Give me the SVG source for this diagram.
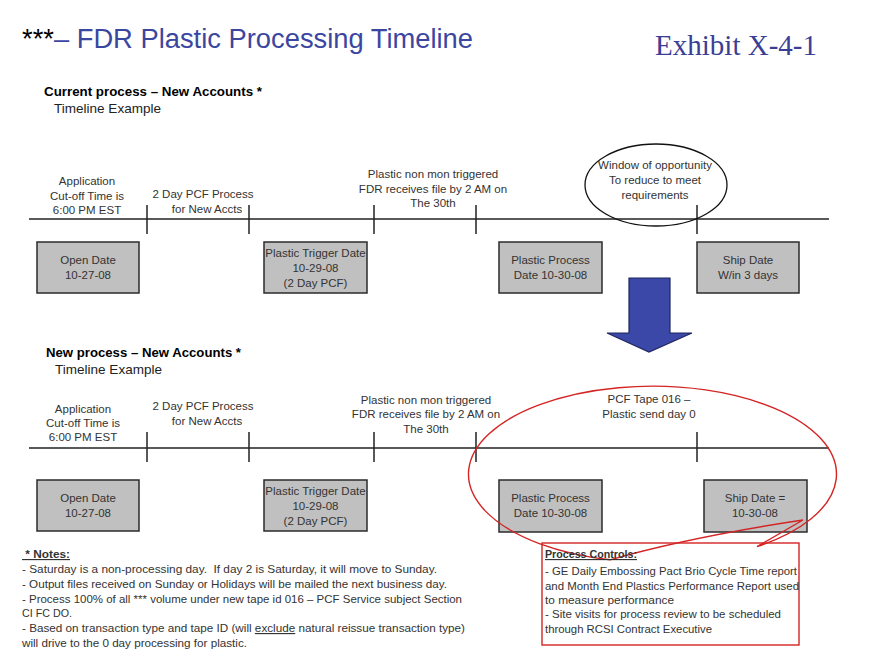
<svg xmlns="http://www.w3.org/2000/svg" width="880" height="660" viewBox="0 0 880 660">
<style>
  text { font-family: "Liberation Sans", Arial, sans-serif; }
  text.serif { font-family: "Liberation Serif", "Times New Roman", serif; }
  .lbl { font-size: 11.5px; fill: #333; text-anchor: middle; }
  .box { fill: #c0c0c0; stroke: #2b2b2b; stroke-width: 1.5; }
  .btxt { font-size: 11.5px; fill: #333; text-anchor: middle; }
  .axis { stroke: #222; stroke-width: 1.5; fill: none; }
  .tick { stroke: #222; stroke-width: 1.5; }
  .head { font-size: 13.5px; font-weight: bold; fill: #000; }
  .sub { font-size: 13.5px; fill: #222; }
  .note { font-size: 11.5px; fill: #333; }
</style>
<rect width="880" height="660" fill="#fff"/>

<g id="title">
  <text x="22" y="48" font-size="27" textLength="451" lengthAdjust="spacingAndGlyphs"><tspan fill="#000">***</tspan><tspan fill="#3b46a0">– FDR Plastic Processing Timeline</tspan></text>
  <text class="serif" x="655" y="55" font-size="30" fill="#3a3f95" textLength="162" lengthAdjust="spacingAndGlyphs">Exhibit X-4-1</text>
</g>

<g id="heading-current">
  <text class="head" x="44" y="96" textLength="218" lengthAdjust="spacingAndGlyphs">Current process – New Accounts *</text>
  <text class="sub" x="54" y="113" textLength="107" lengthAdjust="spacingAndGlyphs">Timeline Example</text>
</g>

<g id="connectors">
  <line class="axis" x1="29" y1="219" x2="829" y2="219"/>
  <line class="tick" x1="147" y1="205" x2="147" y2="234"/>
  <line class="tick" x1="249" y1="205" x2="249" y2="234"/>
  <line class="tick" x1="374" y1="205" x2="374" y2="234"/>
  <line class="tick" x1="476" y1="205" x2="476" y2="234"/>
  <line class="tick" x1="697" y1="205" x2="697" y2="234"/>
  <line class="axis" x1="29" y1="448" x2="829" y2="448"/>
  <line class="tick" x1="147" y1="432" x2="147" y2="462"/>
  <line class="tick" x1="249" y1="432" x2="249" y2="462"/>
  <line class="tick" x1="374" y1="432" x2="374" y2="462"/>
  <line class="tick" x1="476" y1="432" x2="476" y2="462"/>
  <line class="tick" x1="697" y1="432" x2="697" y2="462"/>
</g>

<g id="labels-current">
  <text class="lbl" x="87" y="185">Application</text>
  <text class="lbl" x="87" y="200">Cut-off Time is</text>
  <text class="lbl" x="87" y="214">6:00 PM EST</text>
  <text class="lbl" x="203" y="198">2 Day PCF Process</text>
  <text class="lbl" x="207" y="213">for New Accts</text>
  <text class="lbl" x="433" y="178">Plastic non mon triggered</text>
  <text class="lbl" x="433" y="193">FDR receives file by 2 AM on</text>
  <text class="lbl" x="433" y="207">The 30th</text>
</g>

<g id="window-opportunity">
  <ellipse cx="656" cy="185" rx="71" ry="41" fill="none" stroke="#111" stroke-width="1.3"/>
  <text class="lbl" x="655" y="169">Window of opportunity</text>
  <text class="lbl" x="655" y="184">To reduce to meet</text>
  <text class="lbl" x="655" y="199">requirements</text>
</g>

<g id="cur-open-date">
  <rect class="box" x="37" y="242" width="102" height="51"/>
  <text class="btxt" x="88" y="264">Open Date</text>
  <text class="btxt" x="88" y="279">10-27-08</text>
</g>
<g id="cur-trigger-date">
  <rect class="box" x="264" y="242" width="103" height="51"/>
  <text class="btxt" x="315.5" y="257">Plastic Trigger Date</text>
  <text class="btxt" x="315.5" y="272">10-29-08</text>
  <text class="btxt" x="315.5" y="287">(2 Day PCF)</text>
</g>
<g id="cur-process-date">
  <rect class="box" x="499" y="242" width="103" height="51"/>
  <text class="btxt" x="550.5" y="264">Plastic Process</text>
  <text class="btxt" x="550.5" y="279">Date 10-30-08</text>
</g>
<g id="cur-ship-date">
  <rect class="box" x="697" y="242" width="102" height="51"/>
  <text class="btxt" x="748" y="264">Ship Date</text>
  <text class="btxt" x="748" y="279">W/in 3 days</text>
</g>

<g id="down-arrow">
  <polygon points="629,278 670,278 670,333 692,333 649,352 607,333 629,333" fill="#3b48a8" stroke="#1f2660" stroke-width="1.2"/>
</g>

<g id="heading-new">
  <text class="head" x="46" y="357" textLength="195" lengthAdjust="spacingAndGlyphs">New process – New Accounts *</text>
  <text class="sub" x="55" y="374" textLength="107" lengthAdjust="spacingAndGlyphs">Timeline Example</text>
</g>

<g id="labels-new">
  <text class="lbl" x="83" y="413">Application</text>
  <text class="lbl" x="83" y="427">Cut-off Time is</text>
  <text class="lbl" x="83" y="441">6:00 PM EST</text>
  <text class="lbl" x="203" y="410">2 Day PCF Process</text>
  <text class="lbl" x="207" y="425">for New Accts</text>
  <text class="lbl" x="426" y="404">Plastic non mon triggered</text>
  <text class="lbl" x="426" y="418">FDR receives file by 2 AM on</text>
  <text class="lbl" x="426" y="433">The 30th</text>
  <text class="lbl" x="649" y="403">PCF Tape 016 –</text>
  <text class="lbl" x="649" y="418">Plastic send day 0</text>
</g>

<g id="new-open-date">
  <rect class="box" x="37" y="480" width="102" height="51"/>
  <text class="btxt" x="88" y="502">Open Date</text>
  <text class="btxt" x="88" y="517">10-27-08</text>
</g>
<g id="new-trigger-date">
  <rect class="box" x="264" y="480" width="103" height="51"/>
  <text class="btxt" x="315.5" y="495">Plastic Trigger Date</text>
  <text class="btxt" x="315.5" y="510">10-29-08</text>
  <text class="btxt" x="315.5" y="525">(2 Day PCF)</text>
</g>
<g id="new-process-date">
  <rect class="box" x="499" y="480" width="103" height="52"/>
  <text class="btxt" x="550.5" y="502">Plastic Process</text>
  <text class="btxt" x="550.5" y="517">Date 10-30-08</text>
</g>
<g id="new-ship-date">
  <rect class="box" x="704" y="480" width="103" height="52"/>
  <text class="btxt" x="755" y="502">Ship Date =</text>
  <text class="btxt" x="755" y="517">10-30-08</text>
</g>

<g id="red-callout">
  <path d="M757,546.6 A184,88 0 1 0 610,559.8 Q690,537 803,520 Z" fill="none" stroke="#d42424" stroke-width="1.4"/>
</g>

<g id="process-controls">
  <rect x="542" y="543" width="257" height="102" fill="none" stroke="#d42424" stroke-width="1.4"/>
  <text class="note" x="545" y="558" font-weight="bold" fill="#111" text-decoration="underline" textLength="92" lengthAdjust="spacingAndGlyphs">Process Controls:</text>
  <text class="note" x="545" y="575" textLength="252" lengthAdjust="spacingAndGlyphs">- GE Daily Embossing Pact Brio Cycle Time report</text>
  <text class="note" x="545" y="590" textLength="254" lengthAdjust="spacingAndGlyphs">and Month End Plastics Performance Report used</text>
  <text class="note" x="545" y="604" textLength="129" lengthAdjust="spacingAndGlyphs">to measure performance</text>
  <text class="note" x="545" y="618" textLength="236" lengthAdjust="spacingAndGlyphs">- Site visits for process review to be scheduled</text>
  <text class="note" x="545" y="633" textLength="167" lengthAdjust="spacingAndGlyphs">through RCSI Contract Executive</text>
</g>

<g id="notes">
  <text class="note" x="22" y="558" font-weight="bold" fill="#111" text-decoration="underline" xml:space="preserve" textLength="48" lengthAdjust="spacingAndGlyphs"> * Notes:</text>
  <text class="note" x="22" y="573" textLength="415" lengthAdjust="spacingAndGlyphs" xml:space="preserve">- Saturday is a non-processing day.  If day 2 is Saturday, it will move to Sunday.</text>
  <text class="note" x="22" y="588" textLength="425" lengthAdjust="spacingAndGlyphs">- Output files received on Sunday or Holidays will be mailed the next business day.</text>
  <text class="note" x="22" y="603" textLength="440" lengthAdjust="spacingAndGlyphs">- Process 100% of all *** volume under new tape id 016 – PCF Service subject Section</text>
  <text class="note" x="22" y="617" textLength="50" lengthAdjust="spacingAndGlyphs">CI FC DO.</text>
  <text class="note" x="22" y="632" textLength="443" lengthAdjust="spacingAndGlyphs">- Based on transaction type and tape ID (will <tspan text-decoration="underline">exclude</tspan> natural reissue transaction type)</text>
  <text class="note" x="22" y="647" textLength="225" lengthAdjust="spacingAndGlyphs">will drive to the 0 day processing for plastic.</text>
</g>
</svg>
